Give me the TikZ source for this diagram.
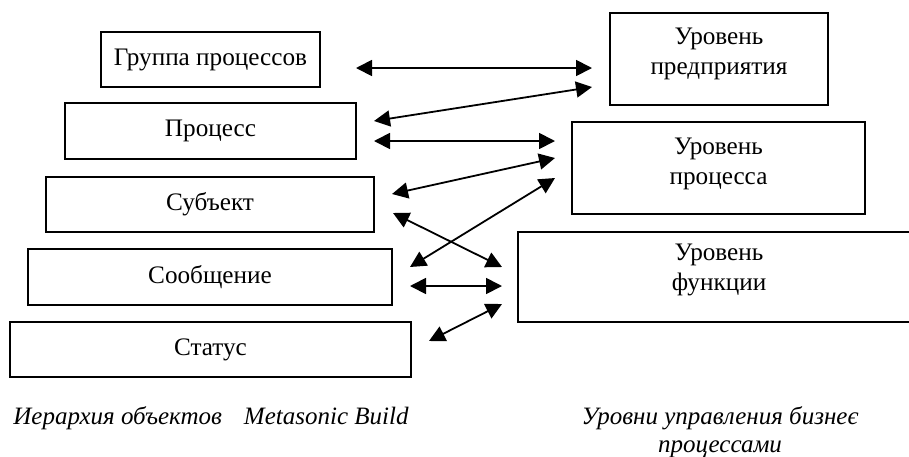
\documentclass[tikz,border=0pt]{standalone}
\usepackage{fontspec}
\setmainfont{Liberation Serif}
\usetikzlibrary{arrows.meta}
\tikzset{
  levelbox/.style = {draw = black, line width = 1pt, inner sep = 0pt, align = center, font = \fontsize{12.6pt}{15pt}\selectfont},
  leveltext/.style = {inner sep = 0pt, align = center, anchor = north, font = \fontsize{12.6pt}{15pt}\selectfont},
  link/.style = {{Triangle[length = 8pt, width = 8pt]}-{Triangle[length = 8pt, width = 8pt]}, line width = 0.9pt},
  caption/.style = {inner sep = 0pt, font = \fontsize{12.5pt}{14pt}\selectfont\itshape}
}
\begin{document}
\begin{tikzpicture}[x = 0.5pt, y = -0.5pt]
\useasboundingbox (0,0) rectangle (909,456);
\node[levelbox, minimum width = 109.5pt, minimum height = 27.5pt] (group) at (210.5,59.5) {Группа процессов};
\node[levelbox, minimum width = 145.5pt, minimum height = 28pt] (process) at (210.5,131) {Процесс};
\node[levelbox, minimum width = 164pt, minimum height = 27.5pt] (subject) at (210,204.5) {Субъект};
\node[levelbox, minimum width = 182pt, minimum height = 28pt] (message) at (210,277) {Сообщение};
\node[levelbox, minimum width = 200.5pt, minimum height = 27.5pt] (state) at (210.5,349.5) {Статус};
\node[levelbox, minimum width = 109pt, minimum height = 46pt] (enterprise) at (719,59) {};
\node[levelbox, minimum width = 146.5pt, minimum height = 46pt] (proclevel) at (718.5,168) {};
\node[levelbox, minimum width = 201pt, minimum height = 45pt] (funclevel) at (719,277) {};
\node[leveltext] (enterprisetext) at ([yshift = -8pt]enterprise.north) {Уровень\\предприятия};
\node[leveltext] (procleveltext) at ([yshift = -8.5pt]proclevel.north) {Уровень\\процесса};
\node[leveltext] (funcleveltext) at ([yshift = -6.5pt]funclevel.north) {Уровень\\функции};
\foreach \ax/\ay/\bx/\by [count = \n] in {356/68/592/68, 374/121/592/87, 374/141/555/141, 392/194/555/158, 410/267/555/178, 393/213/502/267, 410/286/502/286, 429/341/502/304}
{
\coordinate (from\n) at (\ax,\ay);
\coordinate (to\n) at (\bx,\by);
\draw[link] (from\n) -- (to\n);
}
\node[caption, anchor = base west] (objcaption) at (13,424) {Иерархия объектов\hspace{11pt}Metasonic Build};
\node[caption, align = center, anchor = north] (levelcaption) at (720,406) {Уровни управления бизнеє\\процессами};
\end{tikzpicture}
\end{document}
